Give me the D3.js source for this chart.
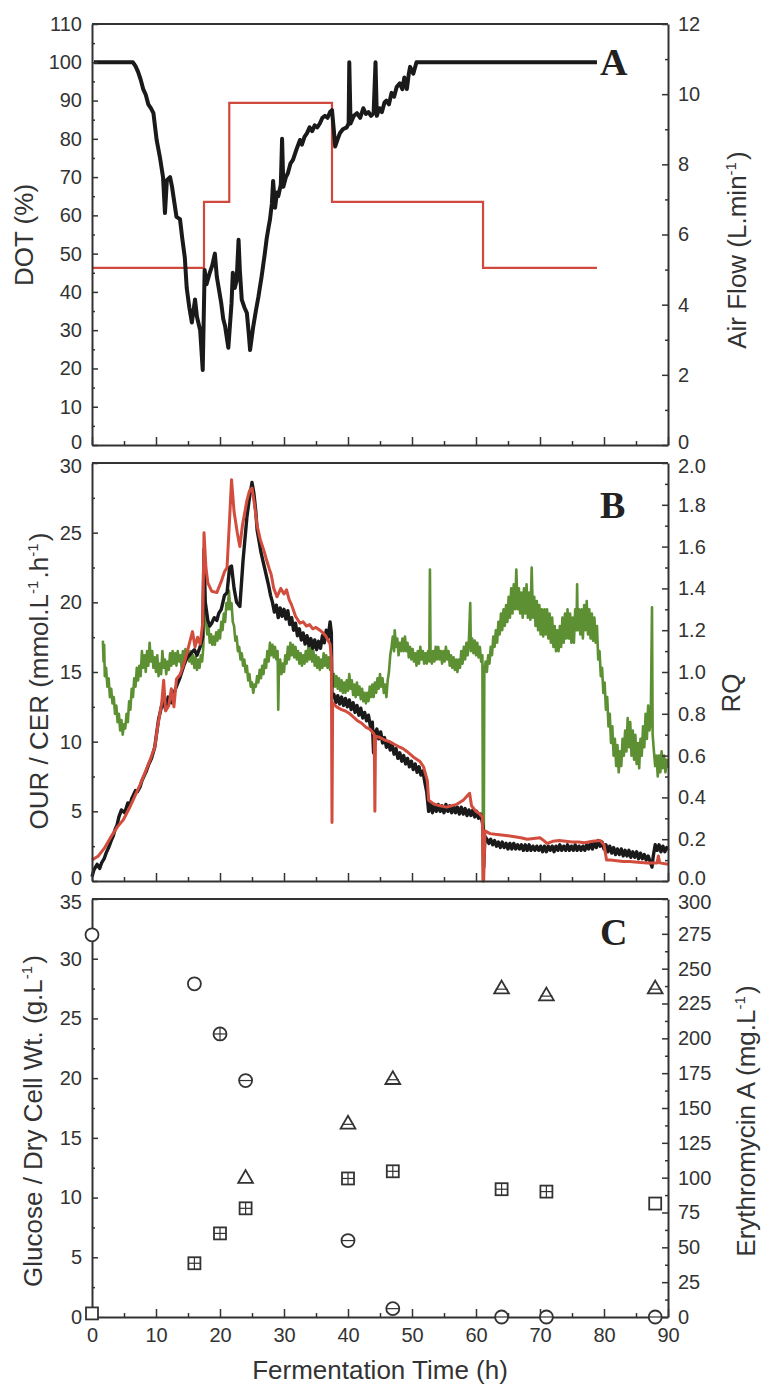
<!DOCTYPE html>
<html><head><meta charset="utf-8">
<script src="https://cdn.jsdelivr.net/npm/d3@7"></script>
<style>
body{margin:0;background:#fff}
svg{display:block}
</style>
</head><body>
<svg id="c" width="763" height="1389" font-family="Liberation Sans, Arial, Helvetica, sans-serif"></svg>
<script>
// ---------------- DATA ----------------
// Panel A: dissolved oxygen tension (%) vs time (h)
const dotSeries = [[0.3,100],[3,100],[6.4,100],[6.8,99],[7.2,97.5],[7.6,95.5],[8,93],[8.4,91.5],[8.8,89],[9.2,88],[9.6,86.7],[10.1,79.7],[10.6,75.3],[11.1,70],[11.4,60.6],[11.7,69.2],[12.2,70],[12.5,67.5],[12.9,63],[13.2,59.6],[13.75,59],[14.1,54],[14.5,49],[14.8,41],[15.2,36],[15.6,32],[16.1,38],[16.4,33.5],[16.9,30],[17.3,19.6],[17.6,45.7],[17.9,42],[18.4,45],[18.8,47],[19.2,50],[19.5,44],[19.9,40],[20.2,37],[20.5,33],[20.8,31],[21.3,25.4],[21.8,37],[22,45],[22.3,41],[22.6,43],[22.9,53.6],[23.1,45.7],[23.4,38],[23.8,36],[24.2,34.5],[24.5,29],[24.7,24.8],[25.2,31],[25.6,35],[26,38.7],[26.5,44],[27,50],[27.3,54],[27.6,57],[27.8,58.8],[28.1,63],[28.3,69],[28.6,62],[28.9,66],[29.1,65],[29.5,68],[29.7,80],[29.9,67.5],[30.3,70],[30.6,71],[31,73.5],[31.4,74.5],[31.9,77],[32.5,79.7],[32.8,78.5],[33.2,80.5],[33.6,81.5],[34,83],[34.4,82],[34.8,83.5],[35.2,83],[35.6,84],[36,85.5],[36.4,86],[36.8,85.5],[37.2,87],[37.5,87.5],[37.8,82],[38,78],[38.4,80],[38.75,81.5],[39.2,82.5],[39.8,83],[40.1,84],[40.2,100],[40.4,84],[40.9,86],[41.4,86.7],[41.9,85.5],[42.4,88],[42.8,86.5],[43.2,87],[43.6,86],[44,86.7],[44.3,100],[44.5,86],[44.9,88],[45.3,87],[45.7,89.5],[46,90],[46.4,89],[46.8,92],[47.2,91],[47.6,93.5],[48.1,94.5],[48.5,93],[48.8,96],[49.2,93],[49.5,97],[49.7,98.8],[50.2,97],[50.7,100],[78.9,100]];
// Panel A: air flow (L/min), step changes
const airTime = [0,17.5,21.45,37.5,61.1,78.9];
const airFlow = [5.05,6.93,9.75,6.93,5.05,5.05];
// Panel B: OUR (black, mmol/L/h)
const ourSeries = [[0,0.3],[0.3,0.8],[0.8,1.2],[1.2,0.9],[1.5,1.3],[1.9,1.6],[2.2,2.0],[2.6,2.4],[3,2.9],[3.3,3.2],[3.6,3.7],[3.9,4.0],[4.2,4.6],[4.6,5.1],[5.1,4.9],[5.6,5.6],[5.9,5.4],[6.2,5.9],[6.5,6.2],[6.8,6.5],[7.1,6.4],[7.5,6.75],[7.8,7.2],[8.2,7.6],[8.5,7.9],[8.8,8.3],[9.3,8.8],[9.8,9.6],[10.4,11.6],[11.1,13],[11.5,12.3],[11.9,13.2],[12.4,12.8],[12.9,13.6],[13.4,14.2],[13.75,14.6],[14.3,15.4],[14.8,16],[15.4,16.3],[16,16.6],[16.4,16.2],[16.9,16.8],[17.3,17.5],[17.5,23.8],[17.7,20],[18.1,18.7],[18.4,18.3],[18.7,18.5],[19.1,18.9],[19.5,18.7],[19.8,19.2],[20.2,19.5],[20.7,20.5],[21.1,20.7],[21.5,22.5],[21.8,22.6],[22.2,21],[22.6,20],[23.1,19.7],[23.6,23],[24.2,26.1],[24.6,27.5],[25,28.6],[25.3,27.8],[25.6,26.5],[25.8,25.2],[26.1,24.4],[26.4,23.6],[26.7,23],[27,22.4],[27.3,21.8],[27.6,21.2],[27.9,20.5],[28.2,20],[28.5,19.3],[28.8,19.8],[29.1,18.9],[29.4,19.6],[29.7,19],[30,19.5],[30.3,18.8],[30.6,19.4],[30.9,18.4],[31.2,18.9],[31.5,18],[31.8,18.5],[32.1,17.6],[32.4,18.1],[32.7,17.3],[33,17.8],[33.3,17],[33.6,17.6],[33.9,16.9],[34.2,17.4],[34.5,16.7],[34.8,17.3],[35.1,16.6],[35.4,17.2],[35.7,16.7],[36,17.6],[36.3,17.1],[36.6,18],[36.9,17.5],[37.2,18.6],[37.4,17.8],[37.5,13.2],[37.8,13.4],[38.1,12.8],[38.4,13.3],[38.7,12.7],[39,13.2],[39.3,12.6],[39.6,13.1],[39.9,12.5],[40.2,13],[40.5,12.3],[40.8,12.8],[41.1,12.1],[41.4,12.6],[41.7,11.9],[42,12.4],[42.3,11.7],[42.6,12.1],[42.9,11.5],[43.2,11.9],[43.5,11.1],[43.8,11.4],[44,9.2],[44.2,10.6],[44.5,10.9],[44.8,10.2],[45.1,10.7],[45.4,9.9],[45.7,10.3],[46,9.6],[46.3,10],[46.6,9.4],[46.9,9.8],[47.2,9.1],[47.5,9.5],[47.8,8.8],[48.1,9.2],[48.4,8.6],[48.7,9],[49,8.4],[49.3,8.8],[49.6,8.2],[49.9,8.6],[50.2,8],[50.5,8.4],[50.8,7.8],[51.1,8.2],[51.4,7.6],[51.7,7.9],[52,7.1],[52.3,6.4],[52.6,5.0],[52.9,5.6],[53.2,4.9],[53.5,5.5],[53.8,5.0],[54.1,5.5],[54.4,5.0],[54.7,5.4],[55,4.9],[55.3,5.5],[55.6,5.0],[55.9,5.4],[56.2,4.9],[56.5,5.4],[56.8,4.9],[57.1,5.3],[57.4,4.8],[57.7,5.3],[58,4.8],[58.3,5.2],[58.6,4.7],[58.9,5.1],[59.2,4.7],[59.5,5.1],[59.8,4.6],[60.1,5.0],[60.4,4.5],[60.7,4.8],[61,4.2],[61.1,3.8],[61.2,1.0],[61.4,3.2],[61.7,3.0],[62,2.7],[62.3,3.0],[62.6,2.6],[62.9,2.9],[63.2,2.5],[63.5,2.8],[63.8,2.4],[64.1,2.8],[64.4,2.4],[64.7,2.7],[65,2.3],[65.3,2.7],[65.6,2.3],[65.9,2.7],[66.2,2.3],[66.5,2.6],[66.8,2.3],[67.1,2.6],[67.4,2.2],[67.7,2.6],[68,2.2],[68.3,2.6],[68.6,2.2],[68.9,2.5],[69.2,2.2],[69.5,2.5],[69.8,2.2],[70.1,2.5],[70.4,2.1],[70.7,2.5],[71,2.1],[71.3,2.5],[71.6,2.2],[71.9,2.5],[72.2,2.1],[72.5,2.5],[72.8,2.2],[73.1,2.6],[73.4,2.2],[73.7,2.5],[74,2.2],[74.3,2.6],[74.6,2.2],[74.9,2.5],[75.2,2.2],[75.5,2.6],[75.8,2.2],[76.1,2.5],[76.4,2.2],[76.7,2.5],[77,2.2],[77.3,2.6],[77.6,2.3],[77.9,2.7],[78.2,2.3],[78.5,2.8],[78.8,2.4],[79.1,2.9],[79.4,2.5],[79.7,2.8],[80,2.3],[80.3,2.6],[80.6,2.1],[80.9,2.5],[81.2,2.0],[81.5,2.4],[81.8,1.9],[82.1,2.3],[82.4,1.9],[82.7,2.3],[83,1.8],[83.3,2.2],[83.6,1.8],[83.9,2.2],[84.2,1.7],[84.5,2.1],[84.8,1.7],[85.1,2.1],[85.4,1.6],[85.7,2.0],[86,1.6],[86.3,1.9],[86.6,1.5],[86.9,1.8],[87.2,1.4],[87.5,1.0],[87.7,1.8],[88,2.6],[88.3,2.2],[88.6,2.6],[88.9,2.1],[89.2,2.5],[89.5,2.1],[89.8,2.4],[90,2.2]];
// Panel B: CER (red, mmol/L/h)
const cerSeries = [[0,1.5],[1,1.8],[2,2.4],[3,3.2],[4,3.9],[4.9,4.4],[5.8,5.2],[6.7,6.1],[7.5,6.9],[8.3,7.8],[9,8.6],[9.8,9.6],[10.3,11.2],[10.9,12.8],[11.2,14.4],[11.5,12.2],[12,12.6],[12.4,13.8],[12.8,12.5],[13.2,14.5],[13.75,14.8],[14.3,15.5],[14.8,16.3],[15.3,17.2],[15.7,17.9],[16.1,16.8],[16.5,17.5],[16.9,17],[17.3,18.5],[17.5,25],[17.8,22.5],[18.1,21.4],[18.7,20.8],[19.5,20.7],[20.2,21.5],[20.7,22.2],[21.1,22.5],[21.5,26],[21.8,28.8],[22.2,26.5],[22.7,25],[23.1,24],[23.5,25.5],[24.2,27.3],[24.6,28],[25,28.2],[25.4,27],[25.8,25.5],[26.3,24.5],[26.8,23.8],[27.3,23],[27.7,22.4],[28,22],[28.4,21],[28.9,20.4],[29.5,21],[30,20.6],[30.4,20.9],[30.8,20.2],[31.2,19.8],[31.8,19],[32.5,18.5],[33,18.6],[33.5,18.3],[34,18.4],[34.5,18.1],[35,18.2],[35.6,18],[36.1,17.8],[36.5,17.6],[37.2,17],[37.4,16],[37.5,4.2],[37.6,12.8],[38.2,12.5],[39,12.3],[39.6,12.2],[40.3,12],[41,11.7],[41.5,11.5],[42.2,11.3],[42.9,11],[43.4,10.9],[43.8,10.7],[44.1,10.5],[44.2,5],[44.3,10.4],[45,10.3],[45.8,10.1],[46.5,10],[47.3,9.8],[48.1,9.6],[48.6,9.5],[49.2,9.3],[50.2,8.9],[51.2,8.6],[51.8,8.2],[52.4,7.2],[52.6,5.8],[53.5,5.5],[54.4,5.4],[55.4,5.3],[56.2,5.4],[57,5.5],[58,5.8],[59,6.3],[59.3,5.4],[60,5.0],[60.6,4.8],[61,4.6],[61.1,0],[61.2,0],[61.4,3.6],[62.2,3.4],[63,3.35],[64,3.3],[65,3.25],[65.8,3.2],[67,3.1],[68,3.0],[69,3.05],[70,3.1],[70.6,2.9],[71.1,2.7],[72,2.85],[73,2.9],[74,2.85],[75,2.8],[76,2.8],[77,2.75],[78.2,2.85],[79.4,2.9],[80,2.6],[80.4,1.5],[81,1.5],[82,1.45],[83,1.4],[84,1.4],[85.3,1.35],[86.7,1.3],[88.3,1.3],[88.5,1.8],[88.7,1.3],[90,1.2]];
// Panel B: RQ (green, right axis)
const rqSeries = [[1.7,1.15],[1.8,1.05],[1.9,1.13],[2.0,0.98],[2.2,1.02],[2.4,0.93],[2.6,0.97],[2.8,0.88],[3.0,0.92],[3.2,0.85],[3.4,0.88],[3.6,0.8],[3.8,0.84],[4.0,0.76],[4.2,0.8],[4.4,0.72],[4.6,0.77],[4.8,0.7],[5.0,0.75],[5.2,0.73],[5.4,0.8],[5.6,0.76],[5.8,0.86],[6.0,0.82],[6.2,0.92],[6.4,0.88],[6.6,0.97],[6.8,0.93],[7.0,1.02],[7.2,0.96],[7.4,1.03],[7.6,0.98],[7.8,1.1],[8.0,1.02],[8.2,1.08],[8.4,1.0],[8.6,1.1],[8.8,1.03],[9.0,1.14],[9.2,1.05],[9.4,1.1],[9.6,1.02],[9.8,1.07],[10.0,1.0],[10.2,1.08],[10.4,0.98],[10.6,1.04],[10.8,0.99],[11.0,1.1],[11.2,1.02],[11.4,1.06],[11.6,0.99],[11.8,1.05],[12.0,1.01],[12.2,1.09],[12.4,1.03],[12.6,1.1],[12.8,1.04],[13.0,1.09],[13.2,1.03],[13.4,1.1],[13.6,1.05],[13.8,1.08],[14.0,1.02],[14.2,1.1],[14.4,1.05],[14.6,1.11],[14.8,1.06],[15.0,1.1],[15.2,1.05],[15.4,1.1],[15.6,1.04],[15.8,1.08],[16.0,1.02],[16.2,1.07],[16.4,1.01],[16.6,1.06],[16.8,1.02],[17.0,1.08],[17.2,1.05],[17.4,1.12],[17.5,1.47],[17.6,1.3],[17.8,1.25],[18.0,1.18],[18.2,1.22],[18.4,1.14],[18.6,1.18],[18.8,1.13],[19.0,1.17],[19.2,1.13],[19.4,1.19],[19.6,1.15],[19.8,1.2],[20.0,1.16],[20.2,1.24],[20.4,1.2],[20.6,1.28],[20.8,1.24],[21.0,1.33],[21.2,1.3],[21.4,1.39],[21.6,1.3],[21.8,1.33],[22.0,1.24],[22.2,1.22],[22.4,1.15],[22.6,1.17],[22.8,1.1],[23.0,1.12],[23.2,1.06],[23.4,1.09],[23.6,1.03],[23.8,1.06],[24.0,1.0],[24.2,1.03],[24.4,0.96],[24.6,0.99],[24.8,0.93],[25.0,0.95],[25.2,0.9],[25.4,0.94],[25.6,0.93],[25.8,0.98],[26.0,0.95],[26.2,1.01],[26.4,0.97],[26.6,1.03],[26.8,0.99],[27.0,1.06],[27.2,1.02],[27.4,1.1],[27.6,1.05],[27.8,1.14],[28.0,1.08],[28.2,1.13],[28.4,1.07],[28.6,1.12],[28.8,1.06],[29.0,1.1],[29.1,0.82],[29.2,1.0],[29.4,1.06],[29.6,0.99],[29.8,1.04],[30.0,1.0],[30.2,1.08],[30.4,1.04],[30.6,1.12],[30.8,1.06],[31.0,1.14],[31.2,1.08],[31.4,1.13],[31.6,1.07],[31.8,1.12],[32.0,1.06],[32.2,1.1],[32.4,1.04],[32.6,1.09],[32.8,1.03],[33.0,1.08],[33.2,1.04],[33.4,1.1],[33.6,1.05],[33.8,1.12],[34.0,1.06],[34.2,1.12],[34.4,1.05],[34.6,1.1],[34.8,1.03],[35.0,1.08],[35.2,1.02],[35.4,1.07],[35.6,1.01],[35.8,1.06],[36.0,1.02],[36.2,1.09],[36.4,1.03],[36.6,1.08],[36.8,1.02],[37.0,1.07],[37.2,1.01],[37.4,1.05],[37.6,0.93],[37.8,0.99],[38.0,0.93],[38.2,0.98],[38.4,0.92],[38.6,0.97],[38.8,0.91],[39.0,0.96],[39.2,0.9],[39.4,0.95],[39.6,0.9],[39.8,0.96],[40.0,0.91],[40.2,0.99],[40.4,0.92],[40.6,0.96],[40.8,0.89],[41.0,0.94],[41.2,0.88],[41.4,0.95],[41.6,0.89],[41.8,0.93],[42.0,0.87],[42.2,0.92],[42.4,0.86],[42.6,0.9],[42.8,0.85],[43.0,0.9],[43.2,0.86],[43.4,0.93],[43.6,0.88],[43.8,0.94],[44.0,0.88],[44.2,0.95],[44.4,0.9],[44.6,0.97],[44.8,0.92],[45.0,0.99],[45.2,0.93],[45.4,0.97],[45.6,0.9],[45.8,0.94],[46.0,0.88],[46.2,0.96],[46.4,1.0],[46.6,1.08],[46.8,1.12],[47.0,1.17],[47.2,1.1],[47.3,1.2],[47.5,1.12],[47.7,1.16],[47.9,1.08],[48.1,1.14],[48.3,1.1],[48.5,1.16],[48.7,1.1],[48.9,1.17],[49.1,1.1],[49.3,1.14],[49.5,1.07],[49.7,1.12],[49.9,1.06],[50.1,1.11],[50.3,1.05],[50.5,1.09],[50.7,1.03],[50.9,1.1],[51.1,1.04],[51.3,1.12],[51.5,1.06],[51.7,1.1],[51.9,1.04],[52.1,1.09],[52.3,1.04],[52.5,1.1],[52.7,1.05],[52.8,1.49],[52.9,1.08],[53.1,1.04],[53.3,1.1],[53.5,1.05],[53.7,1.12],[53.9,1.06],[54.1,1.12],[54.3,1.06],[54.5,1.1],[54.7,1.04],[54.9,1.1],[55.1,1.05],[55.3,1.12],[55.5,1.06],[55.7,1.1],[55.9,1.03],[56.1,1.08],[56.3,1.02],[56.5,1.07],[56.7,1.01],[56.9,1.06],[57.1,1.0],[57.3,1.06],[57.5,1.02],[57.7,1.1],[57.9,1.04],[58.1,1.12],[58.3,1.06],[58.5,1.14],[58.7,1.08],[58.9,1.16],[59.1,1.33],[59.2,1.1],[59.4,1.16],[59.6,1.09],[59.8,1.15],[60.0,1.08],[60.2,1.14],[60.4,1.07],[60.6,1.12],[60.8,1.05],[61.0,1.08],[61.1,0],[61.2,0],[61.3,1.0],[61.5,1.05],[61.7,1.0],[61.9,1.08],[62.1,1.04],[62.3,1.12],[62.5,1.08],[62.7,1.17],[62.9,1.12],[63.1,1.2],[63.3,1.14],[63.5,1.24],[63.7,1.18],[63.9,1.28],[64.1,1.2],[64.3,1.3],[64.5,1.22],[64.7,1.32],[64.9,1.24],[65.1,1.36],[65.3,1.26],[65.5,1.4],[65.7,1.28],[65.9,1.42],[66.1,1.3],[66.3,1.49],[66.5,1.3],[66.7,1.4],[66.9,1.28],[67.1,1.38],[67.3,1.26],[67.5,1.4],[67.7,1.28],[67.9,1.42],[68.1,1.26],[68.3,1.38],[68.5,1.25],[68.7,1.5],[68.9,1.26],[69.1,1.36],[69.3,1.22],[69.5,1.34],[69.7,1.2],[69.9,1.32],[70.1,1.18],[70.3,1.3],[70.5,1.17],[70.7,1.3],[70.9,1.18],[71.1,1.3],[71.3,1.16],[71.5,1.28],[71.7,1.14],[71.9,1.26],[72.1,1.12],[72.3,1.22],[72.5,1.1],[72.7,1.2],[72.9,1.1],[73.1,1.22],[73.3,1.12],[73.5,1.26],[73.7,1.14],[73.9,1.28],[74.1,1.16],[74.3,1.3],[74.5,1.16],[74.7,1.28],[74.9,1.14],[75.1,1.26],[75.3,1.14],[75.5,1.3],[75.7,1.2],[75.8,1.42],[75.9,1.2],[76.1,1.3],[76.3,1.18],[76.5,1.3],[76.7,1.16],[76.9,1.32],[77.1,1.2],[77.3,1.34],[77.5,1.18],[77.7,1.3],[77.9,1.16],[78.1,1.28],[78.3,1.15],[78.5,1.26],[78.7,1.14],[78.9,1.22],[79.1,1.06],[79.3,1.1],[79.5,0.98],[79.7,1.02],[79.9,0.9],[80.1,0.95],[80.3,0.82],[80.5,0.88],[80.7,0.74],[80.9,0.8],[81.1,0.66],[81.3,0.74],[81.5,0.6],[81.7,0.68],[81.9,0.55],[82.1,0.65],[82.3,0.52],[82.5,0.62],[82.7,0.55],[82.9,0.68],[83.1,0.6],[83.3,0.72],[83.5,0.62],[83.7,0.78],[83.9,0.64],[84.1,0.76],[84.3,0.6],[84.5,0.72],[84.7,0.58],[84.9,0.7],[85.1,0.56],[85.3,0.66],[85.5,0.54],[85.7,0.68],[85.9,0.6],[86.1,0.74],[86.3,0.64],[86.5,0.8],[86.7,0.68],[86.9,0.84],[87.1,0.72],[87.3,0.76],[87.5,1.31],[87.6,0.7],[87.8,0.62],[88.0,0.55],[88.2,0.6],[88.4,0.5],[88.6,0.6],[88.8,0.52],[89.0,0.62],[89.2,0.54],[89.4,0.6],[89.6,0.52],[89.8,0.58],[90,0.54]];
// Panel C: offline samples
const sampleTime = [0,16,20,24,40,47,64,71,88];
const glucose = [32,27.9,23.7,19.8,6.4,0.7,0,0,0];
const dryCellWt = [0.3,4.5,7,9.1,11.6,12.2,10.7,10.5,9.5];
const eryTime = [24,40,47,64,71,88];
const erythromycin = [100,139,171,236,231,236];
// tick values
const xTicks = [0,10,20,30,40,50,60,70,80,90];
const dotTicks = [0,10,20,30,40,50,60,70,80,90,100,110];
const airTicks = [0,2,4,6,8,10,12];
const ourTicks = [0,5,10,15,20,25,30];
const rqTicks = [0,0.2,0.4,0.6,0.8,1.0,1.2,1.4,1.6,1.8,2.0];
const glcTicks = [0,5,10,15,20,25,30,35];
const eryTicks = [0,25,50,75,100,125,150,175,200,225,250,275,300];

// ---------------- DRAW ----------------
const SANS = '"Liberation Sans", Arial, Helvetica, sans-serif';
const SERIF = '"Liberation Serif", "Times New Roman", serif';
const svg = d3.select('#c');
const XL = 92, XR = 668;
const x = d3.scaleLinear([0,90],[XL,XR]);
const P = {A:[24,445], B:[463,881], C:[899,1317]};
const AX = '#333';

const yDot = d3.scaleLinear([0,110],[P.A[1],P.A[0]]);
const yAir = d3.scaleLinear([0,12],[P.A[1],P.A[0]]);
const yOur = d3.scaleLinear([0,30],[P.B[1],P.B[0]]);
const yRq  = d3.scaleLinear([0,2],[P.B[1],P.B[0]]);
const yGlc = d3.scaleLinear([0,35],[P.C[1],P.C[0]]);
const yEry = d3.scaleLinear([0,300],[P.C[1],P.C[0]]);

function minorOf(ticks){const r=[];for(let i=0;i<ticks.length-1;i++)r.push((ticks[i]+ticks[i+1])/2);return r;}

function styleAxis(g){
  g.select('.domain').attr('stroke',AX).attr('stroke-width',2);
  g.selectAll('.tick line').attr('stroke',AX).attr('stroke-width',1.5);
  g.selectAll('.tick text').style('font-size','20px').style('fill','#333').style('font-family',SANS);
}
// shiftLo / shiftHi nudge the end labels apart where two panels meet
function yAxis(scale, side, ticks, fmt, shiftLo, shiftHi){
  const gen = side==='left'?d3.axisLeft:d3.axisRight;
  const xp = side==='left'?XL:XR;
  const gm = svg.append('g').attr('transform',`translate(${xp},0)`)
    .call(gen(scale).tickValues(minorOf(ticks)).tickSize(-3).tickSizeOuter(0).tickFormat(''));
  gm.select('.domain').remove();
  gm.selectAll('.tick line').attr('stroke',AX).attr('stroke-width',1.5);
  const g = svg.append('g').attr('transform',`translate(${xp},0)`)
    .call(gen(scale).tickValues(ticks).tickSize(-6).tickSizeOuter(0).tickPadding(10).tickFormat(fmt));
  styleAxis(g);
  const lo = ticks[0], hi = ticks[ticks.length-1];
  g.selectAll('.tick text').attr('y', d => d===lo ? -shiftLo : (d===hi ? shiftHi : 0));
}
function xAxis(bottom, labels){
  const gm = svg.append('g').attr('transform',`translate(0,${bottom})`)
    .call(d3.axisBottom(x).tickValues(minorOf(xTicks)).tickSize(-4).tickSizeOuter(0).tickFormat(''));
  gm.select('.domain').remove();
  gm.selectAll('.tick line').attr('stroke',AX).attr('stroke-width',1.5);
  const g = svg.append('g').attr('transform',`translate(0,${bottom})`)
    .call(d3.axisBottom(x).tickValues(xTicks).tickSize(-8).tickSizeOuter(0).tickPadding(11)
      .tickFormat(labels?d3.format('d'):''));
  styleAxis(g);
}
function topLine(top){
  svg.append('line').attr('x1',XL).attr('x2',XR).attr('y1',top).attr('y2',top)
    .attr('stroke',AX).attr('stroke-width',2);
}
function title(cx, cy, parts){
  const t = svg.append('text').attr('transform',`translate(${cx},${cy}) rotate(-90)`)
    .attr('text-anchor','middle').attr('dy','0.35em')
    .style('font-size','26px').style('fill','#333').style('font-family',SANS);
  parts.forEach(p=>{
    if(typeof p==='string') t.append('tspan').text(p);
    else { t.append('tspan').style('font-size','15px').attr('dy',-10).text(p.sup);
           t.append('tspan').attr('dy',10).text('\u200A'); }
  });
}
function panelLetter(xp, yp, s){
  svg.append('text').attr('x',xp).attr('y',yp).text(s)
    .style('font-family',SERIF).style('font-weight','bold')
    .style('font-size','38px').style('fill','#222');
}

// ---- Panel A ----
svg.append('path').datum(airTime.map((t,i)=>[t,airFlow[i]]))
  .attr('d', d3.line().curve(d3.curveStepAfter).x(d=>x(d[0])).y(d=>yAir(d[1])))
  .attr('fill','none').attr('stroke','#cf4a3c').attr('stroke-width',2.2);
svg.append('path').datum(dotSeries)
  .attr('d', d3.line().x(d=>x(d[0])).y(d=>yDot(d[1])))
  .attr('fill','none').attr('stroke','#1a1a1a').attr('stroke-width',4).attr('stroke-linejoin','round');
topLine(P.A[0]);
yAxis(yDot,'left',dotTicks,d3.format('d'),3,0);
yAxis(yAir,'right',airTicks,d3.format('d'),3,0);
xAxis(P.A[1], false);
title(24, 235, ['DOT (%)']);
title(737, 250, ['Air Flow (L.min',{sup:'-1'},')']);
panelLetter(600, 75, 'A');

// ---- Panel B ----
svg.append('path').datum(rqSeries)
  .attr('d', d3.line().x(d=>x(d[0])).y(d=>yRq(d[1])))
  .attr('fill','none').attr('stroke','#5d8f33').attr('stroke-width',2.6).attr('stroke-linejoin','round');
svg.append('path').datum(ourSeries)
  .attr('d', d3.line().x(d=>x(d[0])).y(d=>yOur(d[1])))
  .attr('fill','none').attr('stroke','#1a1a1a').attr('stroke-width',3.4).attr('stroke-linejoin','round');
svg.append('path').datum(cerSeries)
  .attr('d', d3.line().x(d=>x(d[0])).y(d=>yOur(d[1])))
  .attr('fill','none').attr('stroke','#d24d3d').attr('stroke-width',3).attr('stroke-linejoin','round');
topLine(P.B[0]);
yAxis(yOur,'left',ourTicks,d3.format('d'),3,3);
yAxis(yRq,'right',rqTicks,d3.format('.1f'),3,3);
xAxis(P.B[1], false);
title(39, 681, ['OUR / CER (mmol.L',{sup:'-1'},'.h',{sup:'-1'},')']);
title(731, 693, ['RQ']);
panelLetter(600, 518, 'B');

// ---- Panel C ----
topLine(P.C[0]);
yAxis(yGlc,'left',glcTicks,d3.format('d'),0,3);
yAxis(yEry,'right',eryTicks,d3.format('d'),0,3);
xAxis(P.C[1], true);
title(33, 1121, ['Glucose / Dry Cell Wt. (g.L',{sup:'-1'},')']);
title(746, 1121, ['Erythromycin A (mg.L',{sup:'-1'},')']);
panelLetter(600, 945, 'C');

const mk = svg.append('g').attr('fill','none').attr('stroke','#333').attr('stroke-width',1.8);
// glucose circles
sampleTime.forEach((t,i)=>{
  const cx=x(t), cy=yGlc(glucose[i]);
  mk.append('circle').attr('cx',cx).attr('cy',cy).attr('r',6.5).attr('fill','#fff');
  if(i>=2){ mk.append('line').attr('x1',cx-6.5).attr('x2',cx+6.5).attr('y1',cy).attr('y2',cy).attr('stroke-width',1.2);}
  if(i===2){ mk.append('line').attr('x1',cx).attr('x2',cx).attr('y1',cy-6.5).attr('y2',cy+6.5).attr('stroke-width',1.2);}
});
// dry cell weight squares
sampleTime.forEach((t,i)=>{
  const cx=x(t), cy=yGlc(dryCellWt[i]);
  mk.append('rect').attr('x',cx-6).attr('y',cy-6).attr('width',12).attr('height',12).attr('fill','#fff');
  if(i>0 && i<sampleTime.length-1){
    mk.append('line').attr('x1',cx-6).attr('x2',cx+6).attr('y1',cy).attr('y2',cy).attr('stroke-width',1.2);
    mk.append('line').attr('x1',cx).attr('x2',cx).attr('y1',cy-6).attr('y2',cy+6).attr('stroke-width',1.2);
  }
});
// erythromycin triangles
const tri = d3.symbol().type(d3.symbolTriangle).size(95);
eryTime.forEach((t,i)=>{
  const cx=x(t), cy=yEry(erythromycin[i]);
  mk.append('path').attr('d',tri()).attr('transform',`translate(${cx},${cy+1})`).attr('fill','#fff');
  if(i>0){ mk.append('line').attr('x1',cx-6).attr('x2',cx+6).attr('y1',cy+1).attr('y2',cy+1).attr('stroke-width',1.2); }
});

// x-axis title
svg.append('text').attr('x',380).attr('y',1379).attr('text-anchor','middle')
  .style('font-size','26px').style('fill','#333').style('font-family',SANS).text('Fermentation Time (h)');
</script>
</body></html>
